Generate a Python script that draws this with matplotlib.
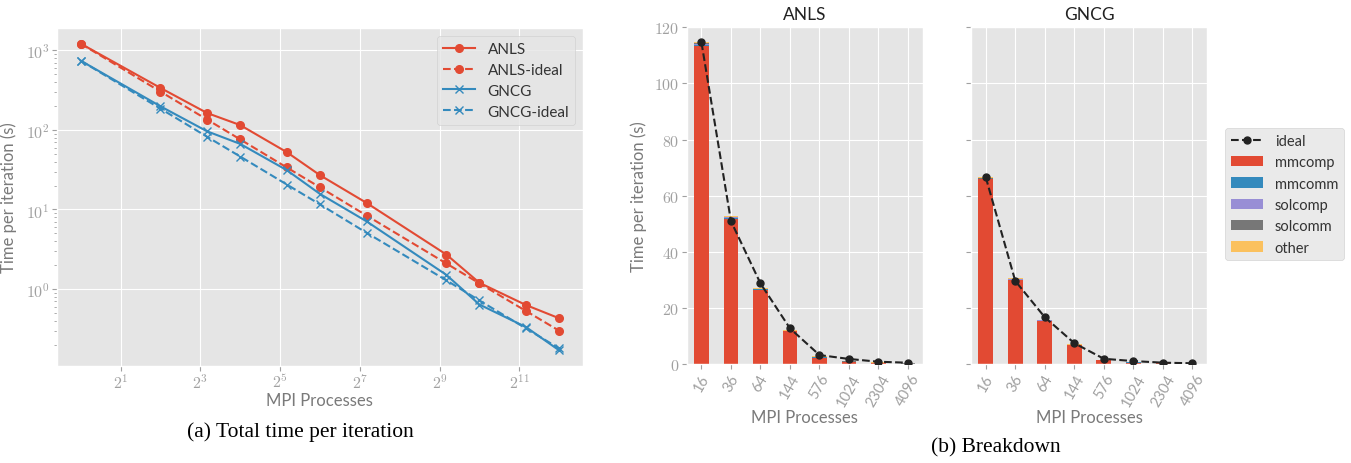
"""Scaling plot: total time per iteration and per-phase breakdown."""

import matplotlib

matplotlib.use("Agg")
import matplotlib.pyplot as plt
import numpy as np
from matplotlib.ticker import FixedLocator, FuncFormatter

plt.style.use("ggplot")
plt.rcParams["font.family"] = ["Lato", "DejaVu Sans"]
plt.rcParams["mathtext.fontset"] = "cm"

# ---- (a) total time per iteration ----
procs = [1, 4, 9, 16, 36, 64, 144, 576, 1024, 2304, 4096]
anls_time = [1213, 337, 163, 115, 52.5, 27, 12.1, 2.72, 1.2, 0.63, 0.43]
anls_ideal = [1213, 303, 135, 76, 33.7, 19, 8.4, 2.1, 1.18, 0.53, 0.30]
gncg_time = [741, 198, 96, 66.7, 31.2, 15.7, 7.1, 1.51, 0.64, 0.333, 0.17]
gncg_ideal = [741, 185, 82, 46.3, 20.6, 11.6, 5.1, 1.29, 0.72, 0.32, 0.18]
log2_ticks = [2, 8, 32, 128, 512, 2048]

# ---- (b) breakdown ----
bd_procs = ["16", "36", "64", "144", "576", "1024", "2304", "4096"]
phases = ["mmcomp", "mmcomm", "solcomp", "solcomm", "other"]

anls_mmcomp = [113.3, 51.6, 26.2, 11.7, 2.2, 0.8, 0.42, 0.12]
anls_mmcomm = [0.3, 0.4, 0.4, 0.1, 0.3, 0.05, 0.05, 0.03]
anls_solcomp = [0.6, 0.3, 0.1, 0.05, 0.02, 0.02, 0.01, 0.01]
anls_solcomm = [0.1, 0.1, 0.05, 0.03, 0.02, 0.02, 0.02, 0.02]
anls_other = [0.3, 0.3, 0.3, 0.3, 0.2, 0.3, 0.15, 0.25]
anls_ideal_bd = [114.6, 50.9, 28.7, 12.7, 3.18, 1.79, 0.80, 0.45]

gncg_mmcomp = [65.8, 29.8, 15.3, 6.7, 1.3, 0.5, 0.22, 0.08]
gncg_mmcomm = [0.2, 0.2, 0.1, 0.05, 0.05, 0.03, 0.02, 0.01]
gncg_solcomp = [0.1, 0.4, 0.1, 0.05, 0.02, 0.01, 0.01, 0.01]
gncg_solcomm = [0.05, 0.05, 0.05, 0.02, 0.02, 0.02, 0.02, 0.01]
gncg_other = [0.5, 0.3, 0.2, 0.2, 0.12, 0.08, 0.06, 0.06]
gncg_ideal_bd = [66.6, 29.6, 16.65, 7.4, 1.85, 1.04, 0.46, 0.26]

RED, BLUE = "#E24A33", "#348ABD"
PHASE_COLORS = ["#E24A33", "#348ABD", "#988ED5", "#777777", "#FBC15E"]
TICK_GRAY = "#a0a0a0"
LABEL_GRAY = "#7a7a7a"

fig = plt.figure(figsize=(13.51, 4.64), dpi=100)

# left panel
ax = fig.add_axes([0.042, 0.2097, 0.3896, 0.7272])
ax.plot(procs, anls_time, "-o", color=RED, ms=5.5, lw=1.5, label="ANLS")
ax.plot(procs, anls_ideal, "--o", color=RED, ms=5.5, lw=1.5, label="ANLS-ideal")
ax.plot(procs, gncg_time, "-x", color=BLUE, ms=6, lw=1.5, label="GNCG")
ax.plot(procs, gncg_ideal, "--x", color=BLUE, ms=6, lw=1.5, label="GNCG-ideal")
ax.set_xscale("log", base=2)
ax.set_yscale("log")
ax.xaxis.set_major_locator(FixedLocator(log2_ticks))
ax.xaxis.set_minor_locator(FixedLocator([]))
ax.xaxis.set_major_formatter(FuncFormatter(lambda v, _: r"$2^{%d}$" % round(np.log2(v))))
ax.yaxis.set_major_formatter(FuncFormatter(lambda v, _: r"$10^{%d}$" % round(np.log10(v))))
ax.tick_params(which="both", colors=TICK_GRAY, labelsize=11.5, pad=1.5)
ax.tick_params(which="minor", length=2)
ax.set_xlabel("MPI Processes", color=LABEL_GRAY, fontsize=12, labelpad=1)
ax.set_ylabel("Time per iteration (s)", color=LABEL_GRAY, fontsize=12)
ax.yaxis.set_label_coords(-0.076, 0.5)
leg = ax.legend(loc="upper right", fontsize=11, labelspacing=0.45, handlelength=2.15)
for t in leg.get_texts():
    t.set_color("#333333")

fig.text(0.222, 0.069, "(a) Total time per iteration", ha="center", va="center",
         fontsize=15.5, family="Liberation Serif")

# right panels
ax_a = fig.add_axes([0.5083, 0.2134, 0.1747, 0.7256])
ax_g = fig.add_axes([0.7187, 0.2134, 0.1749, 0.7256], sharey=ax_a)

x = np.arange(len(bd_procs))
panels = [
    (ax_a, "ANLS", [anls_mmcomp, anls_mmcomm, anls_solcomp, anls_solcomm, anls_other], anls_ideal_bd),
    (ax_g, "GNCG", [gncg_mmcomp, gncg_mmcomm, gncg_solcomp, gncg_solcomm, gncg_other], gncg_ideal_bd),
]
for axis, title, parts, ideal in panels:
    bottom = np.zeros(len(bd_procs))
    for name, vals, color in zip(phases, parts, PHASE_COLORS):
        axis.bar(x, vals, 0.5, bottom=bottom, color=color, label=name, zorder=2)
        bottom += np.array(vals)
    axis.plot(x, ideal, "--o", color="#222222", ms=5, lw=1.5, label="ideal", zorder=3)
    axis.set_xlim(-0.5, len(bd_procs) - 0.5)
    axis.set_xticks(x)
    axis.set_xticklabels(bd_procs, rotation=60)
    axis.set_title(title, fontsize=12.5, color="#222222", pad=6)
    axis.set_xlabel("MPI Processes", color=LABEL_GRAY, fontsize=12, labelpad=1)
    axis.tick_params(colors=TICK_GRAY, labelsize=10.5, pad=2)

ax_a.set_ylim(0, 120)
ax_a.set_yticks(np.arange(0, 121, 20))
ax_a.yaxis.set_major_formatter(FuncFormatter(lambda v, _: r"$%d$" % v))
ax_a.tick_params(axis="y", labelsize=11.5, pad=1.5)
ax_a.set_ylabel("Time per iteration (s)", color=LABEL_GRAY, fontsize=12)
ax_a.yaxis.set_label_coords(-0.169, 0.5)
ax_g.tick_params(axis="y", labelleft=False)

handles, labels = ax_g.get_legend_handles_labels()
order = [labels.index("ideal")] + [labels.index(p) for p in phases]
leg2 = fig.legend([handles[i] for i in order], [labels[i] for i in order],
                  loc="center left", bbox_to_anchor=(0.9015, 0.579), fontsize=10.5,
                  labelspacing=0.5, handlelength=2.2, facecolor="#E5E5E5")
for t in leg2.get_texts():
    t.set_color("#333333")

fig.text(0.737, 0.035, "(b) Breakdown", ha="center", va="center",
         fontsize=15.5, family="Liberation Serif")

fig.savefig("out.png", dpi=100)
